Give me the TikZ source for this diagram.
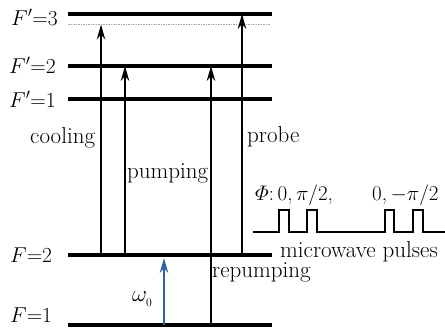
\RequirePackage{fix-cm}
\documentclass[tikz,border=0pt]{standalone}
\usepackage{amsmath}
\usepackage{fontspec}
\setmainfont{Latin Modern Roman}[FakeBold=0]
\newfontfamily\heavy{Latin Modern Roman}[AutoFakeBold=0.6]
\usetikzlibrary{arrows.meta}
\definecolor{mwblue}{RGB}{46,98,168}
\begin{document}
\begin{tikzpicture}[x=1pt,y=-1pt,
  level/.style={line width=3.4pt},
  trans/.style={line width=1.5pt,-{Stealth[length=15pt,width=8.5pt,inset=5pt]}},
  lbl/.style={font=\fontsize{23}{27}\selectfont, inner sep=0pt, anchor=base west},
  lvl/.style={font=\fontsize{21.5}{26}\selectfont, inner sep=0pt, anchor=base west},
  pls/.style={font=\fontsize{21}{25}\selectfont, inner sep=0pt, anchor=base west},
]
\useasboundingbox (0,0) rectangle (445,333);
% levels
\draw[level] (68,14) -- (272,14);
\draw[gray!70, line width=0.7pt, dash pattern=on 1.5pt off 1pt] (68,24) -- (270,24);
\draw[level] (68,66) -- (272,66);
\draw[level] (68,99) -- (272,99);
\draw[level] (68,255) -- (272,255);
\draw[level] (68,325) -- (272,325);
% level labels
\node[lvl] (l3) at (11,25) {$F'$=3};
\node[lvl] (l2) at (9,73) {$F'$=2};
\node[lvl] (l1) at (9,107) {$F'$=1};
\node[lvl] (g2) at (10,262) {$F$=2};
\node[lvl] (g1) at (10,322) {$F$=1};
% arrow end points
\coordinate (cS) at (101,255); \coordinate (cE) at (101,24.5);
\coordinate (pS) at (125,255); \coordinate (pE) at (125,66);
\coordinate (rS) at (211,325); \coordinate (rE) at (211,66);
\coordinate (bS) at (242,255); \coordinate (bE) at (242,14);
\coordinate (wS) at (164,325); \coordinate (wE) at (164,258);
\draw[trans] (cS) -- (cE);
\draw[trans] (pS) -- (pE);
\draw[trans] (rS) -- (rE);
\draw[trans] (bS) -- (bE);
\draw[trans, mwblue, line width=1.7pt] (wS) -- (wE);
% transition labels
\node[lbl] (cool) at (30,143) {cooling};
\node[lbl] (pump) at (127,178) {pumping};
\node[lbl] (prob) at (247,142) {probe};
\node[lbl] (repu) at (212,277) {repumping};
\node[lbl] (om) at (132,301) {$\omega_{{}_0}$};
% microwave pulses
\draw[line width=1.8pt] (253,232) -- (279,232) -- (279,210) -- (289,210) -- (289,232)
  -- (307,232) -- (307,210) -- (317,210) -- (317,232)
  -- (385,232) -- (385,210) -- (394,210) -- (394,232)
  -- (413,232) -- (413,210) -- (423,210) -- (423,232) -- (445,232);
\node[pls] (ph1) at (255,200) {$\varPhi$:\,0,\,$\pi$/2,};
\node[pls] (ph2) at (372,200) {0,\,$-\pi$/2};
\node[lbl] (mw) at (280,257) {microwave pulses};
\end{tikzpicture}
\end{document}
